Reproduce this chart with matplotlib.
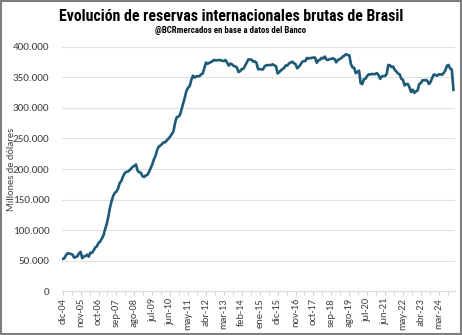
import numpy as np
import matplotlib.pyplot as plt
from matplotlib.patches import Rectangle

# reservas mensuales (millones de USD), dic-04 a dic-24
reservas = [
    52.9,
    53.6, 59.0, 61.9, 61.6, 60.7, 59.9, 54.9, 55.9, 57.0, 61.7, 64.3, 53.8,
    56.9, 57.4, 59.8, 56.5, 63.0, 62.7, 66.8, 71.5, 73.4, 79.0, 81.4, 85.8,
    91.1, 101.1, 109.5, 121.8, 136.4, 147.1, 155.9, 161.1, 162.9, 167.9, 177.1, 180.3,
    187.5, 192.9, 195.2, 195.8, 197.9, 200.8, 203.6, 205.1, 207.5, 197.2, 194.7, 193.8,
    188.1, 186.9, 189.5, 190.2, 195.3, 201.5, 207.4, 215.8, 221.6, 231.1, 236.7, 238.5,
    241.0, 243.8, 243.8, 247.3, 249.8, 253.1, 257.3, 261.4, 275.2, 284.9, 285.5, 288.6,
    297.7, 307.5, 317.1, 328.1, 333.0, 335.8, 346.1, 352.9, 349.7, 351.7, 352.1, 352.0,
    355.1, 356.3, 365.2, 374.4, 372.4, 373.9, 375.0, 376.6, 378.7, 377.8, 378.0, 378.6,
    378.4, 377.1, 376.9, 378.5, 374.0, 369.4, 372.7, 371.4, 368.7, 368.0, 366.3, 358.8,
    360.4, 363.7, 364.3, 369.0, 374.3, 379.5, 379.2, 379.2, 375.8, 376.4, 374.0, 363.6,
    363.6, 363.1, 363.1, 368.0, 370.0, 370.1, 370.1, 370.3, 371.5, 369.6, 368.5, 356.5,
    358.8, 361.5, 363.8, 365.5, 369.6, 369.4, 373.0, 374.3, 375.8, 373.1, 372.0, 365.0,
    367.5, 370.6, 375.3, 376.8, 376.7, 381.9, 381.0, 381.6, 382.0, 382.5, 382.5, 374.0,
    377.8, 379.0, 382.0, 381.0, 384.2, 379.2, 378.6, 380.0, 380.3, 381.3, 380.0, 374.7,
    378.6, 380.0, 381.3, 384.0, 385.6, 388.1, 386.6, 386.5, 372.2, 366.4, 365.8, 356.9,
    359.1, 361.0, 340.7, 339.1, 347.0, 347.9, 352.6, 355.1, 354.7, 355.8, 355.3, 355.6,
    357.0, 353.9, 347.7, 351.7, 352.4, 352.4, 355.7, 370.4, 369.9, 366.9, 367.7, 362.2,
    359.6, 356.4, 354.9, 347.6, 346.0, 336.9, 339.3, 339.3, 333.5, 326.1, 329.9, 324.7,
    327.2, 328.7, 339.2, 340.6, 345.5, 345.1, 345.7, 344.3, 339.1, 342.7, 349.6, 355.0,
    353.9, 352.7, 355.0, 355.1, 354.3, 357.3, 361.2, 369.2, 370.5, 364.5, 363.0, 329.7,
]
reservas = np.array(reservas) * 1000

meses = ["ene", "feb", "mar", "abr", "may", "jun", "jul", "ago", "sep", "oct", "nov", "dic"]
etiquetas = []
for i in range(len(reservas)):
    m = (11 + i) % 12
    anio = 4 + (11 + i) // 12
    etiquetas.append(f"{meses[m]}-{anio:02d}")

x = np.arange(len(reservas))
ticks = x[::11]
fuente = ["Carlito", "Liberation Sans", "DejaVu Sans"]
titulo = ["Roboto Condensed", "DejaVu Sans"]

fig = plt.figure(figsize=(4.62, 3.35), dpi=100)
ax = fig.add_axes([0.134, 0.131, 0.851, 0.729])

ax.plot(x, reservas, color="#1c5a78", lw=1.9, solid_joinstyle="round")

ax.set_ylim(0, 400000)
ax.set_xlim(-0.5, 241)
yt = np.arange(0, 400001, 50000)
ax.set_yticks(yt)
ax.set_yticklabels([f"{v:,.0f}".replace(",", ".") for v in yt],
                   fontsize=8, color="#404040", family=fuente)
ax.set_xticks(ticks)
ax.set_xticklabels([etiquetas[i] for i in ticks], rotation=90, fontsize=7.5,
                   color="#404040", family=fuente)
ax.set_xticks(np.arange(0, 241, 5.5), minor=True)
ax.tick_params(axis="y", length=0, pad=9)
ax.tick_params(axis="x", which="both", length=3, color="#d0d0d0", pad=2)
ax.grid(axis="y", color="#e0e0e0", lw=0.8)
for s in ["top", "right", "left"]:
    ax.spines[s].set_visible(False)
ax.spines["bottom"].set_color("#d9d9d9")
ax.set_ylabel("Millones de dólares", fontsize=7.5, color="#404040", family=fuente)
ax.yaxis.set_label_coords(-0.118, 0.5)

fig.text(0.5, 0.937, "Evolución de reservas internacionales brutas de Brasil",
         ha="center", va="baseline", fontsize=11.4, fontweight="bold", family=titulo)
fig.text(0.5, 0.901, "@BCRmercados en base a datos del Banco",
         ha="center", va="baseline", fontsize=6.4, fontweight="bold", family=titulo)

fig.patches.append(Rectangle((0.002, 0.004), 0.996, 0.993, transform=fig.transFigure,
                             fill=False, edgecolor="#7f7f7f", lw=1.5))

fig.savefig("out.png", dpi=100)
